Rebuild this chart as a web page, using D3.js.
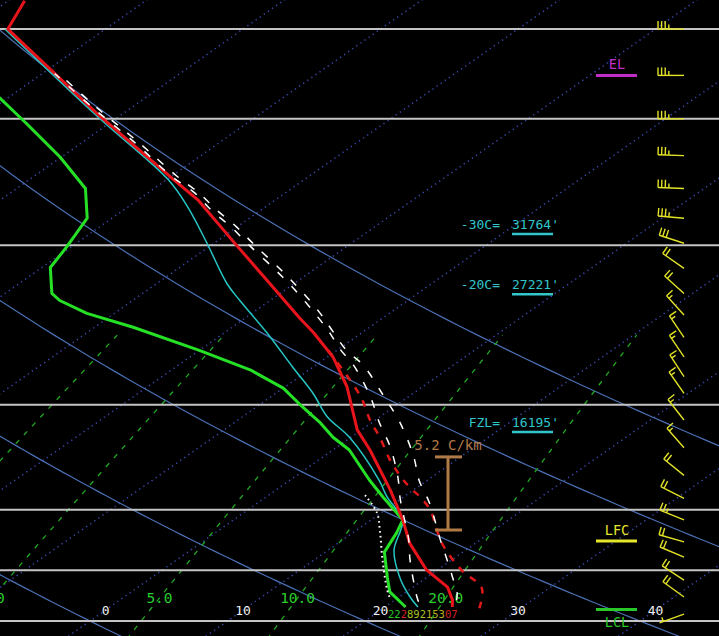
<!DOCTYPE html>
<html><head><meta charset="utf-8">
<script src="https://cdn.jsdelivr.net/npm/d3@7"></script>
<style>html,body{margin:0;padding:0;background:#000;overflow:hidden}svg{display:block}</style>
</head><body><svg id="c" width="719" height="636"></svg>
<script>
// ---------------- data ----------------
const isobars = [1000, 850, 700, 500, 300, 200, 150];
const isothermLabels = [0, 10, 20, 30, 40];
const mixingRatios = [1, 2, 5, 10, 20];
const mixingLabelValues = [2, 5, 10, 20];
const adiabatThetas = [-20, 0, 20, 40, 60, 80];

const tempP = [956, 935, 897, 849, 779, 723, 657, 578, 542, 472, 429, 397, 379, 335, 295, 260, 243, 198, 150, 137];
const tempT = [24.9, 24.2, 22.5, 19.2, 15.2, 12.3, 8.3, 2.7, -0.3, -5.5, -9.6, -13.5, -16.0, -22.4, -29.0, -35.5, -39.5, -51.5, -67.1, -68.8];

const dewP = [956, 911, 869, 802, 754, 723, 672, 637, 578, 555, 530, 504, 474, 447, 420, 390, 373, 358, 350, 322, 302, 275, 250, 226, 203, 187, 180];
const dewT = [21.5, 18.8, 17.1, 14.3, 13.2, 12.3, 8.5, 5.8, 1.2, -1.3, -3.7, -6.6, -10.0, -14.3, -20.0, -27.2, -32.0, -35.3, -36.6, -39.4, -40.3, -41.8, -45.0, -50.1, -56.0, -60.6, -63.5];

const wbP = [956, 926, 869, 797, 747, 723, 672, 637, 555, 520, 482, 443, 397, 358, 339, 298, 265, 243, 198, 150];
const wbT = [22.4, 20.8, 18.0, 14.8, 13.2, 12.3, 8.8, 6.5, -0.1, -3.8, -7.3, -11.5, -16.9, -22.2, -24.9, -30.5, -35.7, -39.9, -51.7, -67.3];

const tvP = [960, 900, 850, 780, 701, 672, 651, 627, 597, 555, 525, 487, 416];
const tvT = [27.0, 25.1, 21.8, 17.6, 13.3, 11.2, 9.4, 7.5, 5.2, 2.1, -0.4, -3.5, -11.1];

const parcelAP = [935, 914, 877, 823, 771, 685, 637, 591, 530, 487, 440, 420, 394, 371, 346, 325, 300, 283, 268, 254, 240, 216, 193, 173];
const parcelAT = [24.5, 23.8, 22.2, 19.7, 17.1, 12.5, 9.4, 6.6, 2.1, -1.8, -6.6, -9.3, -12.4, -15.3, -18.9, -22.3, -26.8, -30.0, -33.2, -36.2, -39.7, -45.8, -52.5, -58.8];

const parcelBP = [940, 926, 823, 771, 679, 630, 573, 530, 487, 440, 420, 394, 371, 346, 325, 300, 283, 268, 254, 240, 216, 193, 173];
const parcelBT = [21.9, 21.3, 17.0, 14.8, 10.1, 7.5, 3.9, 0.6, -2.8, -7.3, -9.7, -12.7, -15.7, -19.3, -22.7, -27.2, -30.4, -33.6, -36.5, -40.1, -46.1, -52.8, -59.1];

const downP = [668, 707, 754, 823, 905, 935];
const downT = [7.0, 9.7, 12.0, 15.0, 18.4, 19.7];

const windP = [150, 174, 200, 225, 250, 275, 298, 323, 350, 375, 403, 429, 457, 482, 525, 574, 627, 675, 723, 776, 815, 877, 926, 978];
const windDir = [270, 270, 270, 272, 272, 275, 288, 305, 312, 318, 326, 326, 327, 325, 322, 319, 309, 297, 292, 286, 293, 303, 306, 250];
const windSpd = [35, 35, 35, 35, 35, 35, 30, 20, 20, 15, 15, 15, 15, 15, 15, 15, 20, 20, 25, 20, 20, 20, 20, 5];

const markerNames = ["EL", "LFC", "LCL"];
const markerP = [174, 774, 964];
const markerColors = ["#c02ec8", "#e6e62a", "#28c828"];

const levelTemps = [-30, -20, 0];
const levelNames = ["-30C=", "-20C=", "FZL="];
const levelHeights = ["31764'", "27221'", "16195'"];

const lapseP = [747, 591];
const lapseLabel = "5.2 C/km";

const sfcTexts = ["22", "2", "892", "153", "07"];
const sfcColors = ["#22c822", "#d82020", "#a8c020", "#b8b020", "#d82020"];

// ---------------- geometry ----------------
const W = 719, H = 636;
const svg = d3.select("#c");
svg.append("rect").attr("width", W).attr("height", H).attr("fill", "#000");
const y = d3.scaleLog().domain([1000, 100]).range([621, 621 - 312 * Math.LN10]);
const xT = d3.scaleLinear().domain([0, 10]).range([90, 227.5]);
const skew = 1.42;
const X = (t, p) => xT(t) + skew * (y(1000) - y(p));

svg.append("clipPath").attr("id", "clip").append("rect").attr("width", W).attr("height", H);
const g = svg.append("g").attr("clip-path", "url(#clip)");
const line = d3.line().x(d => X(d.t, d.p)).y(d => y(d.p));
const zipTP = (P, T) => P.map((p, i) => ({p, t: T[i]}));

// isotherms (dotted)
d3.range(-120, 60, 10).forEach(t => {
  g.append("path").attr("d", line([{p: 1060, t}, {p: 100, t}]))
    .attr("fill", "none").attr("stroke", "#3a48a8").attr("stroke-width", 1.5)
    .attr("stroke-dasharray", "1.3,3.7");
});
// dry adiabats
adiabatThetas.forEach(th => {
  const pts = d3.range(1060, 99, -10).map(p => ({p, t: (th + 273.15) * Math.pow(p / 1000, 0.2857) - 273.15}));
  g.append("path").attr("d", line(pts)).attr("fill", "none")
    .attr("stroke", "#4a70b4").attr("stroke-width", 1.2);
});
// mixing ratio lines
const tdFromW = (w, p) => { const e = w * p / (622 + w); const l = Math.log(e / 6.112); return 243.5 * l / (17.67 - l); };
mixingRatios.forEach(w => {
  const pts = d3.range(1060, 399, -10).map(p => ({p, t: tdFromW(w, p)}));
  g.append("path").attr("d", line(pts)).attr("fill", "none")
    .attr("stroke", "#22a822").attr("stroke-width", 1.3).attr("stroke-dasharray", "5,7");
});
// isobars
isobars.forEach(p => {
  g.append("line").attr("x1", 0).attr("x2", W).attr("y1", y(p)).attr("y2", y(p))
    .attr("stroke", "#c4c4c4").attr("stroke-width", 2);
});

// axis labels
const FONT = "DejaVu Sans Mono";
const pTempLab = y.invert(610);
isothermLabels.forEach(t => {
  g.append("text").attr("x", X(t, pTempLab)).attr("y", 615).attr("text-anchor", "middle")
    .attr("font-family", FONT).attr("font-size", 13).attr("fill", "#f0f0f0").text(t);
});
const pMixLab = y.invert(598);
mixingLabelValues.forEach(w => {
  g.append("text").attr("x", X(tdFromW(w, pMixLab), pMixLab)).attr("y", 603).attr("text-anchor", "middle")
    .attr("font-family", FONT).attr("font-size", 14.5).attr("fill", "#2ccc2c").text(w.toFixed(1));
});

// profiles
const path = (data, color, width, dash, curve) => {
  const ln = d3.line().x(d => X(d.t, d.p)).y(d => y(d.p)).curve(curve || d3.curveLinear);
  const el = g.append("path").attr("d", ln(data)).attr("fill", "none")
    .attr("stroke", color).attr("stroke-width", width).attr("stroke-linejoin", "round");
  if (dash) el.attr("stroke-dasharray", dash);
  return el;
};
path(zipTP(tvP, tvT), "#e01818", 2.5, "7,8", d3.curveCatmullRom);
path(zipTP(wbP, wbT), "#26c6c6", 1.5, null, d3.curveCatmullRom);
path(zipTP(dewP, dewT), "#26e026", 3, null, d3.curveLinear);
path(zipTP(tempP, tempT), "#e8141c", 3, null, d3.curveLinear);
path(zipTP(parcelAP, parcelAT), "#ffffff", 1.5, "8,12", d3.curveCatmullRom);
path(zipTP(parcelBP, parcelBT), "#ffffff", 1.5, "8,12", d3.curveCatmullRom);
path(zipTP(downP, downT), "#ffffff", 2, "1.6,3.4", d3.curveCatmullRom);

// level labels (-30C, -20C, freezing level) placed where the temperature trace crosses
const crossP = tc => {
  for (let i = 0; i < tempP.length - 1; i++) {
    const a = tempT[i], b = tempT[i + 1];
    if ((a - tc) * (b - tc) <= 0 && a !== b) {
      const f = (a - tc) / (a - b);
      return Math.exp(Math.log(tempP[i]) + f * (Math.log(tempP[i + 1]) - Math.log(tempP[i])));
    }
  }
  return null;
};
levelTemps.forEach((tc, i) => {
  const yy = y(crossP(tc));
  g.append("text").attr("x", 500).attr("y", yy - 5).attr("text-anchor", "end")
    .attr("font-family", FONT).attr("font-size", 13).attr("fill", "#30c6cc").text(levelNames[i]);
  g.append("text").attr("x", 512).attr("y", yy - 5)
    .attr("font-family", FONT).attr("font-size", 13).attr("fill", "#30c6cc").text(levelHeights[i]);
  g.append("line").attr("x1", 512).attr("x2", 553).attr("y1", yy).attr("y2", yy)
    .attr("stroke", "#30c6cc").attr("stroke-width", 2.5);
});

// lapse-rate bracket
const lc = "#b07a46";
const lx = 448;
g.append("line").attr("x1", lx).attr("x2", lx).attr("y1", y(lapseP[1])).attr("y2", y(lapseP[0])).attr("stroke", lc).attr("stroke-width", 3);
lapseP.forEach(p => g.append("line").attr("x1", lx - 13).attr("x2", lx + 14).attr("y1", y(p)).attr("y2", y(p)).attr("stroke", lc).attr("stroke-width", 3));
g.append("text").attr("x", lx).attr("y", y(lapseP[1]) - 7).attr("text-anchor", "middle")
  .attr("font-family", FONT).attr("font-size", 14).attr("fill", lc).text(lapseLabel);

// EL / LFC / LCL markers
markerNames.forEach((n, i) => {
  const yy = y(markerP[i]);
  g.append("line").attr("x1", 596).attr("x2", 637).attr("y1", yy).attr("y2", yy)
    .attr("stroke", markerColors[i]).attr("stroke-width", 3);
  const below = n === "LCL";
  g.append("text").attr("x", 617).attr("y", below ? yy + 17 : yy - 6).attr("text-anchor", "middle")
    .attr("font-family", FONT).attr("font-size", 13.5).attr("fill", markerColors[i]).text(n);
});

// surface values text
const st = g.append("text").attr("x", 388).attr("y", 618).attr("font-family", FONT).attr("font-size", 10.5);
sfcTexts.forEach((s, i) => st.append("tspan").attr("fill", sfcColors[i]).text(s));

// wind barbs
const bx = 684;
windP.forEach((p, i) => {
  const yy = y(p);
  const a = windDir[i] * Math.PI / 180;
  const ux = Math.sin(a), uy = -Math.cos(a);
  const fx = -uy, fy = ux;
  const L = 26;
  const bg = g.append("g").attr("stroke", "#e2e228").attr("stroke-width", 1.4).attr("fill", "none");
  bg.append("line").attr("x1", bx).attr("y1", yy).attr("x2", bx + ux * L).attr("y2", yy + uy * L);
  let spd = Math.round(windSpd[i] / 5) * 5;
  let pos = L;
  const full = Math.floor(spd / 10), half = (spd % 10) >= 5;
  if (full === 0 && half) pos = L - 4;
  for (let k = 0; k < full; k++) {
    const sx = bx + ux * pos, sy = yy + uy * pos;
    bg.append("line").attr("x1", sx).attr("y1", sy).attr("x2", sx + fx * 8).attr("y2", sy + fy * 8);
    pos -= 3.6;
  }
  if (half) {
    const sx = bx + ux * pos, sy = yy + uy * pos;
    bg.append("line").attr("x1", sx).attr("y1", sy).attr("x2", sx + fx * 4.5).attr("y2", sy + fy * 4.5);
  }
});
</script>
</body></html>
